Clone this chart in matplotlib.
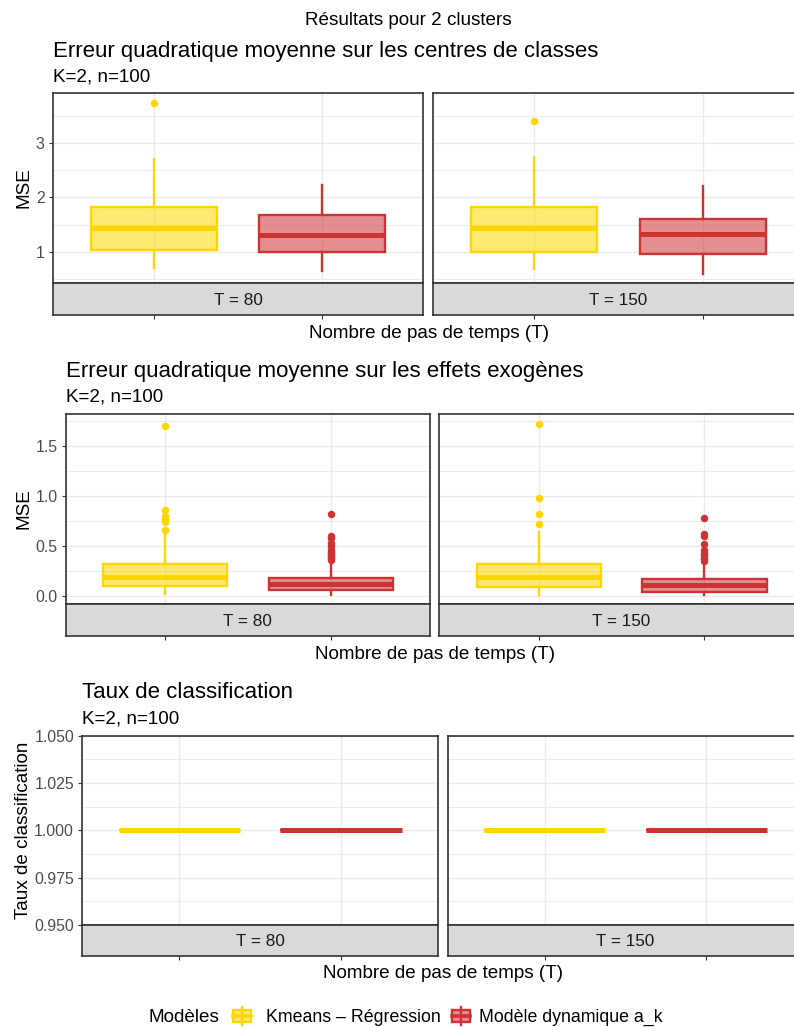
import matplotlib
matplotlib.use("Agg")
import matplotlib.pyplot as plt
from matplotlib.colors import to_rgba
from matplotlib.patches import Rectangle
from matplotlib.lines import Line2D

plt.rcParams['font.family'] = ['Liberation Sans', 'DejaVu Sans']

# ---------------------------------------------------------------- data
periods = ["T = 80", "T = 150"]
models = ["Kmeans – Régression", "Modèle dynamique a_k"]
model_colors = ["#FFD700", "#CD3333"]

# Boxplot summaries, indexed [period][model]
# MSE on cluster centres
centres_whislo = [[0.70, 0.645], [0.68, 0.60]]
centres_q1 = [[1.04, 0.995], [1.00, 0.96]]
centres_med = [[1.435, 1.31], [1.445, 1.335]]
centres_q3 = [[1.83, 1.67], [1.82, 1.605]]
centres_whishi = [[2.71, 2.22], [2.75, 2.21]]
centres_fliers = [[[3.74], []], [[3.40], []]]
centres_yticks = [1, 2, 3]
centres_yticklabels = ["1", "2", "3"]

# MSE on exogenous effects
exo_whislo = [[0.015, 0.012], [0.005, 0.005]]
exo_q1 = [[0.097, 0.062], [0.084, 0.037]]
exo_med = [[0.185, 0.117], [0.184, 0.107]]
exo_q3 = [[0.32, 0.177], [0.314, 0.17]]
exo_whishi = [[0.624, 0.34], [0.634, 0.33]]
exo_fliers = [
    [[0.657, 0.74, 0.767, 0.80, 0.854, 1.70],
     [0.36, 0.374, 0.39, 0.407, 0.43, 0.44, 0.457, 0.50, 0.53, 0.574, 0.597, 0.814]],
    [[0.717, 0.814, 0.98, 1.72],
     [0.35, 0.364, 0.38, 0.407, 0.43, 0.457, 0.517, 0.597, 0.617, 0.777]],
]
exo_yticks = [0.0, 0.5, 1.0, 1.5]
exo_yticklabels = ["0.0", "0.5", "1.0", "1.5"]

# Classification rate
rate_whislo = [[1.0, 1.0], [1.0, 1.0]]
rate_q1 = [[1.0, 1.0], [1.0, 1.0]]
rate_med = [[1.0, 1.0], [1.0, 1.0]]
rate_q3 = [[1.0, 1.0], [1.0, 1.0]]
rate_whishi = [[1.0, 1.0], [1.0, 1.0]]
rate_fliers = [[[], []], [[], []]]
rate_yticks = [0.950, 0.975, 1.000, 1.025, 1.050]
rate_yticklabels = ["0.950", "0.975", "1.000", "1.025", "1.050"]

suptitle = "Résultats pour 2 clusters"
subtitle = "K=2, n=100"
xlabel = "Nombre de pas de temps (T)"
legend_title = "Modèles"

# ---------------------------------------------------------------- layout
W, H = 794, 1027
fig = plt.figure(figsize=(W / 100, H / 100), dpi=100)
fig.patch.set_facecolor("white")

BORDER = "#333333"
GRID = "#EBEBEB"
STRIP = "#D9D9D9"
LW = 1.7


def frac(x0, y0, x1, y1):
    return [x0 / W, 1 - y1 / H, (x1 - x0) / W, (y1 - y0) / H]


def stats_for(period, whislo, q1, med, q3, whishi, fliers):
    out = []
    for m in range(len(models)):
        out.append(dict(whislo=whislo[period][m], q1=q1[period][m],
                        med=med[period][m], q3=q3[period][m],
                        whishi=whishi[period][m], fliers=fliers[period][m]))
    return out


rows = [
    dict(title="Erreur quadratique moyenne sur les centres de classes",
         ylabel="MSE", top=93.3, strip_top=282.7, bottom=315.3,
         panels=[(52.7, 423.3), (432.7, 804.5)], ylim=(0.437, 3.91),
         yticks=centres_yticks, yticklabels=centres_yticklabels,
         minor=[0.5, 1.5, 2.5, 3.5],
         data=(centres_whislo, centres_q1, centres_med, centres_q3,
               centres_whishi, centres_fliers),
         title_base=56.5, sub_base=82.0, xlab_base=338.5),
    dict(title="Erreur quadratique moyenne sur les effets exogènes",
         ylabel="MSE", top=414.3, strip_top=603.7, bottom=635.7,
         panels=[(65.7, 430.0), (439.3, 803.8)], ylim=(-0.08, 1.814),
         yticks=exo_yticks, yticklabels=exo_yticklabels,
         minor=[0.25, 0.75, 1.25, 1.75],
         data=(exo_whislo, exo_q1, exo_med, exo_q3, exo_whishi, exo_fliers),
         title_base=376.5, sub_base=401.5, xlab_base=659.3),
    dict(title="Taux de classification",
         ylabel="Taux de classification", top=735.7, strip_top=925.0,
         bottom=956.0,
         panels=[(82.3, 438.0), (447.7, 803.0)], ylim=(0.95, 1.05),
         yticks=rate_yticks, yticklabels=rate_yticklabels,
         minor=[0.9625, 0.9875, 1.0125, 1.0375],
         data=(rate_whislo, rate_q1, rate_med, rate_q3, rate_whishi,
               rate_fliers),
         title_base=697.5, sub_base=723.0, xlab_base=978.3),
]

overlay = fig.add_axes([0, 0, 1, 1], zorder=10)
overlay.set_xlim(0, W)
overlay.set_ylim(H, 0)
overlay.axis("off")

for row in rows:
    for p, (x0, x1) in enumerate(row["panels"]):
        ax = fig.add_axes(frac(x0, row["top"], x1, row["strip_top"]))
        ax.set_xlim(0.4, 2.6)
        ax.set_ylim(*row["ylim"])
        ax.set_xticks([1, 2])
        ax.set_yticks(row["yticks"])
        ax.set_yticks(row["minor"], minor=True)
        ax.set_axisbelow(True)
        ax.grid(which="major", color=GRID, linewidth=1.0)
        ax.grid(which="minor", axis="y", color=GRID, linewidth=0.7)
        ax.tick_params(axis="x", length=0, labelbottom=False)
        ax.tick_params(which="minor", length=0)
        if p == 0:
            ax.set_yticklabels(row["yticklabels"])
            ax.tick_params(axis="y", length=2.9, width=0.8,
                           color=BORDER, pad=3.0, labelsize=11.4,
                           labelcolor="#4D4D4D")
        else:
            ax.tick_params(axis="y", length=0, labelleft=False)
        for s in ax.spines.values():
            s.set_color(BORDER)
            s.set_linewidth(1.2)

        stats = stats_for(p, *row["data"])
        for m, (st, color) in enumerate(zip(stats, model_colors)):
            ax.bxp([st], positions=[m + 1], widths=0.75, patch_artist=True,
                   showcaps=False, manage_ticks=False, zorder=3,
                   boxprops=dict(facecolor=to_rgba(color, 0.55),
                                 edgecolor=color, linewidth=LW),
                   medianprops=dict(color=color, linewidth=3.6,
                                    solid_capstyle="butt"),
                   whiskerprops=dict(color=color, linewidth=LW),
                   flierprops=dict(marker="o", markerfacecolor=color,
                                   markeredgecolor="none", markersize=5.4))

        # facet strip below the panel
        sx = fig.add_axes(frac(x0, row["strip_top"], x1, row["bottom"]))
        sx.set_facecolor(STRIP)
        sx.set_xlim(0.4, 2.6)
        sx.set_ylim(0, 1)
        sx.set_xticks([1, 2])
        sx.set_yticks([])
        sx.tick_params(axis="x", length=2.9, width=0.8, color=BORDER,
                       labelbottom=False)
        for s in sx.spines.values():
            s.set_color(BORDER)
            s.set_linewidth(1.2)
        sx.text(0.5, 0.5, periods[p], transform=sx.transAxes, ha="center",
                va="center_baseline", fontsize=12.3, color="#1A1A1A")

    left = row["panels"][0][0]
    right = row["panels"][1][1]
    overlay.text(left, row["title_base"], row["title"], ha="left",
                 va="baseline", fontsize=16, color="black")
    overlay.text(left, row["sub_base"], subtitle, ha="left", va="baseline",
                 fontsize=13.6, color="black")
    overlay.text((left + right) / 2, row["xlab_base"], xlabel, ha="center",
                 va="baseline", fontsize=13.6, color="black")
    overlay.text(28.3, (row["top"] + row["strip_top"]) / 2, row["ylabel"],
                 rotation=90, rotation_mode="anchor", ha="center",
                 va="baseline", fontsize=13.6, color="black")

overlay.text(408, 25, suptitle, ha="center", va="baseline", fontsize=13.6,
             color="black")

# legend along the bottom
leg_y = 1016.0
leg_base = 1022.0
overlay.text(148, leg_base, legend_title, ha="left", va="baseline",
             fontsize=13.6, color="black")
key_x = [231.0, 450.0]
text_x = [266.0, 479.0]
kw, kh = 22.0, 24.0
for m, color in enumerate(model_colors):
    kx = key_x[m]
    cx = kx + kw / 2
    ky0 = leg_y - kh / 2
    overlay.add_line(Line2D([cx, cx], [ky0 + 0.12 * kh, ky0 + 0.88 * kh],
                            color=color, linewidth=LW))
    overlay.add_patch(Rectangle((kx + 0.1 * kw, ky0 + 0.25 * kh),
                                0.8 * kw, 0.5 * kh,
                                facecolor=to_rgba(color, 0.55),
                                edgecolor=color, linewidth=LW))
    overlay.add_line(Line2D([kx + 0.1 * kw, kx + 0.9 * kw], [leg_y, leg_y],
                            color=color, linewidth=2.6))
    overlay.text(text_x[m], leg_base, models[m], ha="left", va="baseline",
                 fontsize=12.8, color="black")

fig.savefig("out.png", dpi=100, facecolor="white")
